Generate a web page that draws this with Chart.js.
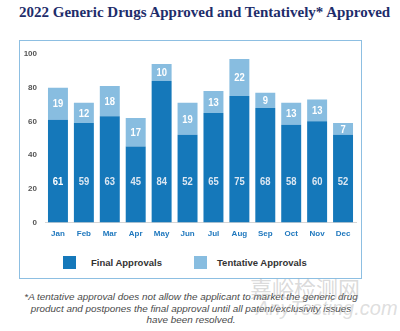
<!DOCTYPE html>
<html lang="en">
<head>
    <meta charset="UTF-8">
    <title>2022 Generic Drugs Approved</title>
    <script src="https://cdn.jsdelivr.net/npm/chart.js"></script>
    <style>
        * { margin: 0; padding: 0; box-sizing: border-box; }
        body {
            width: 400px;
            height: 331px;
            background: #ffffff;
            position: relative;
            overflow: hidden;
            font-family: 'Liberation Sans', Arial, sans-serif;
        }
        h1 {
            position: absolute;
            left: 19px;
            top: 4px;
            font-family: 'Liberation Serif', serif;
            font-weight: bold;
            font-size: 15px;
            color: #1e2d6b;
            white-space: nowrap;
        }
        .chart-box {
            position: absolute;
            left: 19px;
            top: 40px;
            width: 343px;
            height: 239px;
            border: 1px solid #8dbfe2;
        }
        .chart-container {
            position: absolute;
            left: 0;
            top: 0;
            width: 341px;
            height: 205px;
        }
        .legend-item {
            position: absolute;
            top: 215px;
            height: 13px;
            font-weight: bold;
            font-size: 9.5px;
            color: #333333;
            line-height: 13px;
            white-space: nowrap;
        }
        .legend-item span {
            position: absolute;
            top: 0;
            width: 13px;
            height: 13px;
        }
        .note {
            position: absolute;
            left: 0;
            top: 291px;
            width: 382px;
            text-align: center;
            font-style: italic;
            font-size: 9.9px;
            line-height: 11.5px;
            color: #4a4a4a;
            white-space: nowrap;
        }
        .wm-cn {
            position: absolute;
            left: 250px;
            top: 271px;
            font-family: 'Noto Sans CJK SC', sans-serif;
            font-size: 22px;
            color: rgba(160, 160, 160, 0.4);
            white-space: nowrap;
        }
        .wm-en {
            position: absolute;
            left: 256px;
            top: 297px;
            font-size: 20px;
            font-style: italic;
            color: rgba(170, 170, 170, 0.4);
            white-space: nowrap;
        }
    </style>
</head>
<body>
    <h1>2022 Generic Drugs Approved and Tentatively* Approved</h1>
    <div class="chart-box">
        <div class="chart-container">
            <canvas id="myChart"></canvas>
        </div>
        <div id="legend"></div>
    </div>
    <div class="note">
        *A tentative approval does not allow the applicant to market the generic drug<br>
        product and postpones the final approval until all patent/exclusivity issues<br>
        have been resolved.
    </div>
    <div class="wm-cn">嘉峪检测网</div>
    <div class="wm-en">AnyTesting.com</div>

    <script>
        const months = ['Jan', 'Feb', 'Mar', 'Apr', 'May', 'Jun', 'Jul', 'Aug', 'Sep', 'Oct', 'Nov', 'Dec'];
        const finalApprovals = [61, 59, 63, 45, 84, 52, 65, 75, 68, 58, 60, 52];
        const tentativeApprovals = [19, 12, 18, 17, 10, 19, 13, 22, 9, 13, 13, 7];
        const yTicks = [0, 20, 40, 60, 80, 100];

        const seriesNames = ['Final Approvals', 'Tentative Approvals'];
        const seriesColors = ['#1578ba', '#88bde0'];

        // narrow bold number, squeezed horizontally
        function drawNumber(ctx, text, x, y) {
            ctx.save();
            ctx.translate(x, y);
            ctx.scale(0.82, 1);
            ctx.fillText(text, 0, 0);
            ctx.restore();
        }

        // value labels: final count low in the bar, tentative count centred in its segment
        const valueLabels = {
            id: 'valueLabels',
            afterDatasetsDraw(chart) {
                const ctx = chart.ctx;
                const y = chart.scales.y;
                ctx.save();
                ctx.font = 'bold 11.5px "Liberation Sans", sans-serif';
                ctx.textAlign = 'center';
                ctx.textBaseline = 'middle';
                chart.getDatasetMeta(0).data.forEach((bar, i) => {
                    ctx.fillStyle = i === 0 ? '#ffffff' : '#dce7f2';
                    drawNumber(ctx, finalApprovals[i], bar.x, y.getPixelForValue(24));
                });
                chart.getDatasetMeta(1).data.forEach((bar, i) => {
                    ctx.fillStyle = '#ffffff';
                    drawNumber(ctx, tentativeApprovals[i], bar.x, (bar.y + bar.base) / 2 + 0.5);
                });
                ctx.restore();
            }
        };

        const ctx = document.getElementById('myChart').getContext('2d');
        const chart = new Chart(ctx, {
            type: 'bar',
            data: {
                labels: months,
                datasets: [{
                    label: seriesNames[0],
                    data: finalApprovals,
                    backgroundColor: seriesColors[0],
                    borderWidth: 0,
                    categoryPercentage: 1,
                    barPercentage: 0.77
                }, {
                    label: seriesNames[1],
                    data: tentativeApprovals,
                    backgroundColor: seriesColors[1],
                    borderWidth: 0,
                    categoryPercentage: 1,
                    barPercentage: 0.77
                }]
            },
            options: {
                responsive: true,
                maintainAspectRatio: false,
                animation: false,
                layout: { padding: { top: 13, right: 5, bottom: 0, left: 0 } },
                plugins: {
                    legend: { display: false },
                    tooltip: { enabled: false }
                },
                scales: {
                    x: {
                        stacked: true,
                        grid: { display: false, drawTicks: false },
                        border: { color: '#d6d6d6', width: 1 },
                        ticks: {
                            color: '#1f78be',
                            padding: 7,
                            font: { family: 'Liberation Sans', size: 8, weight: 'bold' }
                        }
                    },
                    y: {
                        stacked: true,
                        min: 0,
                        max: 100,
                        afterFit(scale) { scale.width = 25; },
                        afterBuildTicks(scale) { scale.ticks = yTicks.map(v => ({ value: v })); },
                        grid: { display: false, drawTicks: false },
                        border: { display: false },
                        ticks: {
                            color: '#555555',
                            padding: 8,
                            font: { family: 'Liberation Sans', size: 8, weight: 'bold' }
                        }
                    }
                }
            },
            plugins: [valueLabels]
        });

        // legend row under the chart
        const legendPos = [[43, 71], [174, 197]];
        const legend = document.getElementById('legend');
        seriesNames.forEach((name, i) => {
            const item = document.createElement('div');
            item.className = 'legend-item';
            item.style.left = legendPos[i][0] + 'px';
            item.innerHTML = '<span style="left:0;background:' + seriesColors[i] + '"></span>' +
                '<b style="position:absolute;left:' + (legendPos[i][1] - legendPos[i][0]) + 'px">' + name + '</b>';
            legend.appendChild(item);
        });
    </script>
</body>
</html>
